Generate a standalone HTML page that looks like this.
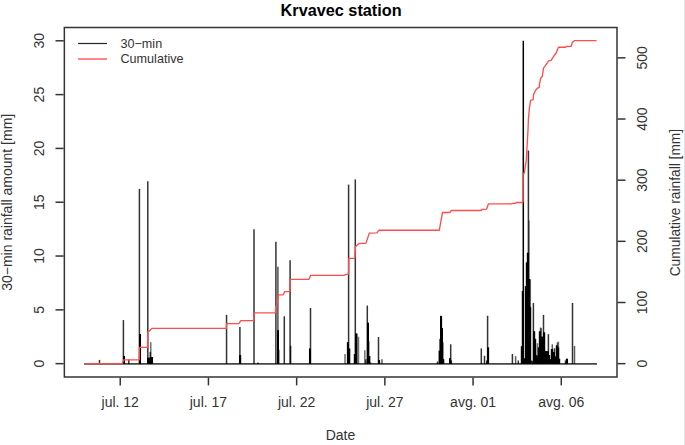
<!DOCTYPE html>
<html><head><meta charset="utf-8"><style>
html,body{margin:0;padding:0;background:#fff;width:685px;height:445px;overflow:hidden}
svg{display:block}
.t{font-family:"Liberation Sans",sans-serif;font-size:14px;fill:#333}
.lg{font-family:"Liberation Sans",sans-serif;font-size:12.6px;fill:#333}
.ti{font-family:"Liberation Sans",sans-serif;font-size:16.25px;font-weight:bold;fill:#000}
</style></head><body>
<svg width="685" height="445" viewBox="0 0 685 445">
<rect x="684" y="0" width="1" height="445" fill="#e3e3e3"/>
<path d="M64.35 27.5 H617 V377 H64.35 Z" fill="none" stroke="#000" stroke-width="1.5" stroke-opacity="0.8"/>
<line x1="55.5" y1="363.66" x2="63.6" y2="363.66" stroke="#000" stroke-width="1.5" stroke-opacity="0.8"/>
<text x="44.2" y="363.66" transform="rotate(-90 44.2 363.66)" text-anchor="middle" class="t">0</text>
<line x1="55.5" y1="309.85" x2="63.6" y2="309.85" stroke="#000" stroke-width="1.5" stroke-opacity="0.8"/>
<text x="44.2" y="309.85" transform="rotate(-90 44.2 309.85)" text-anchor="middle" class="t">5</text>
<line x1="55.5" y1="256.04" x2="63.6" y2="256.04" stroke="#000" stroke-width="1.5" stroke-opacity="0.8"/>
<text x="44.2" y="256.04" transform="rotate(-90 44.2 256.04)" text-anchor="middle" class="t">10</text>
<line x1="55.5" y1="202.23" x2="63.6" y2="202.23" stroke="#000" stroke-width="1.5" stroke-opacity="0.8"/>
<text x="44.2" y="202.23" transform="rotate(-90 44.2 202.23)" text-anchor="middle" class="t">15</text>
<line x1="55.5" y1="148.42" x2="63.6" y2="148.42" stroke="#000" stroke-width="1.5" stroke-opacity="0.8"/>
<text x="44.2" y="148.42" transform="rotate(-90 44.2 148.42)" text-anchor="middle" class="t">20</text>
<line x1="55.5" y1="94.61" x2="63.6" y2="94.61" stroke="#000" stroke-width="1.5" stroke-opacity="0.8"/>
<text x="44.2" y="94.61" transform="rotate(-90 44.2 94.61)" text-anchor="middle" class="t">25</text>
<line x1="55.5" y1="40.80" x2="63.6" y2="40.80" stroke="#000" stroke-width="1.5" stroke-opacity="0.8"/>
<text x="44.2" y="40.80" transform="rotate(-90 44.2 40.80)" text-anchor="middle" class="t">30</text>
<line x1="617.7" y1="363.66" x2="625.5" y2="363.66" stroke="#000" stroke-width="1.5" stroke-opacity="0.8"/>
<text x="647" y="363.66" transform="rotate(-90 647 363.66)" text-anchor="middle" class="t">0</text>
<line x1="617.7" y1="302.50" x2="625.5" y2="302.50" stroke="#000" stroke-width="1.5" stroke-opacity="0.8"/>
<text x="647" y="302.50" transform="rotate(-90 647 302.50)" text-anchor="middle" class="t">100</text>
<line x1="617.7" y1="241.34" x2="625.5" y2="241.34" stroke="#000" stroke-width="1.5" stroke-opacity="0.8"/>
<text x="647" y="241.34" transform="rotate(-90 647 241.34)" text-anchor="middle" class="t">200</text>
<line x1="617.7" y1="180.18" x2="625.5" y2="180.18" stroke="#000" stroke-width="1.5" stroke-opacity="0.8"/>
<text x="647" y="180.18" transform="rotate(-90 647 180.18)" text-anchor="middle" class="t">300</text>
<line x1="617.7" y1="119.02" x2="625.5" y2="119.02" stroke="#000" stroke-width="1.5" stroke-opacity="0.8"/>
<text x="647" y="119.02" transform="rotate(-90 647 119.02)" text-anchor="middle" class="t">400</text>
<line x1="617.7" y1="57.86" x2="625.5" y2="57.86" stroke="#000" stroke-width="1.5" stroke-opacity="0.8"/>
<text x="647" y="57.86" transform="rotate(-90 647 57.86)" text-anchor="middle" class="t">500</text>
<line x1="120.23" y1="377.7" x2="120.23" y2="385.4" stroke="#000" stroke-width="1.5" stroke-opacity="0.8"/>
<text x="120.23" y="406.7" text-anchor="middle" class="t">jul. 12</text>
<line x1="208.44" y1="377.7" x2="208.44" y2="385.4" stroke="#000" stroke-width="1.5" stroke-opacity="0.8"/>
<text x="208.44" y="406.7" text-anchor="middle" class="t">jul. 17</text>
<line x1="296.65" y1="377.7" x2="296.65" y2="385.4" stroke="#000" stroke-width="1.5" stroke-opacity="0.8"/>
<text x="296.65" y="406.7" text-anchor="middle" class="t">jul. 22</text>
<line x1="384.86" y1="377.7" x2="384.86" y2="385.4" stroke="#000" stroke-width="1.5" stroke-opacity="0.8"/>
<text x="384.86" y="406.7" text-anchor="middle" class="t">jul. 27</text>
<line x1="473.07" y1="377.7" x2="473.07" y2="385.4" stroke="#000" stroke-width="1.5" stroke-opacity="0.8"/>
<text x="473.07" y="406.7" text-anchor="middle" class="t">avg. 01</text>
<line x1="561.28" y1="377.7" x2="561.28" y2="385.4" stroke="#000" stroke-width="1.5" stroke-opacity="0.8"/>
<text x="561.28" y="406.7" text-anchor="middle" class="t">avg. 06</text>
<line x1="84" y1="363.9" x2="597" y2="363.9" stroke="#000" stroke-width="1.7" stroke-opacity="0.72"/>
<rect x="123" y="356.13" width="1" height="7.53" fill="#000"/>
<rect x="124" y="356.13" width="1" height="7.53" fill="#000"/>
<rect x="139" y="334.06" width="1" height="29.60" fill="#000"/>
<rect x="140" y="334.06" width="1" height="29.60" fill="#000"/>
<rect x="147" y="357.74" width="1" height="5.92" fill="#000"/>
<rect x="148" y="357.74" width="1" height="5.92" fill="#000"/>
<rect x="149" y="357.74" width="1" height="5.92" fill="#000"/>
<rect x="150" y="357.20" width="1" height="6.46" fill="#000"/>
<rect x="151" y="357.20" width="1" height="6.46" fill="#000"/>
<rect x="152" y="357.20" width="1" height="6.46" fill="#000"/>
<rect x="239" y="355.05" width="1" height="8.61" fill="#000"/>
<rect x="240" y="355.05" width="1" height="8.61" fill="#000"/>
<rect x="277" y="330.30" width="1" height="33.36" fill="#000"/>
<rect x="278" y="330.30" width="1" height="33.36" fill="#000"/>
<rect x="309" y="348.59" width="1" height="15.07" fill="#000"/>
<rect x="310" y="348.59" width="1" height="15.07" fill="#000"/>
<rect x="347" y="342.14" width="1" height="21.52" fill="#000"/>
<rect x="348" y="342.14" width="1" height="21.52" fill="#000"/>
<rect x="349" y="348.59" width="1" height="15.07" fill="#000"/>
<rect x="354" y="353.97" width="1" height="9.69" fill="#000"/>
<rect x="355" y="333.53" width="1" height="30.13" fill="#000"/>
<rect x="356" y="333.53" width="1" height="30.13" fill="#000"/>
<rect x="367" y="322.76" width="1" height="40.90" fill="#000"/>
<rect x="368" y="322.76" width="1" height="40.90" fill="#000"/>
<rect x="369" y="356.13" width="1" height="7.53" fill="#000"/>
<rect x="378" y="360.11" width="1" height="3.55" fill="#000"/>
<rect x="379" y="360.11" width="1" height="3.55" fill="#000"/>
<rect x="439" y="350.75" width="1" height="12.91" fill="#000"/>
<rect x="440" y="316.31" width="1" height="47.35" fill="#000"/>
<rect x="441" y="316.31" width="1" height="47.35" fill="#000"/>
<rect x="442" y="328.15" width="1" height="35.51" fill="#000"/>
<rect x="443" y="359.36" width="1" height="4.30" fill="#000"/>
<rect x="449" y="358.28" width="1" height="5.38" fill="#000"/>
<rect x="450" y="358.28" width="1" height="5.38" fill="#000"/>
<rect x="487" y="347.52" width="1" height="16.14" fill="#000"/>
<rect x="488" y="347.52" width="1" height="16.14" fill="#000"/>
<rect x="521" y="346.44" width="1" height="17.22" fill="#000"/>
<rect x="522" y="291.02" width="1" height="72.64" fill="#000"/>
<rect x="523" y="291.02" width="1" height="72.64" fill="#000"/>
<rect x="524" y="358.28" width="1" height="5.38" fill="#000"/>
<rect x="525" y="286.17" width="1" height="77.49" fill="#000"/>
<rect x="526" y="262.50" width="1" height="101.16" fill="#000"/>
<rect x="527" y="252.81" width="1" height="110.85" fill="#000"/>
<rect x="528" y="252.81" width="1" height="110.85" fill="#000"/>
<rect x="529" y="279.18" width="1" height="84.48" fill="#000"/>
<rect x="530" y="307.16" width="1" height="56.50" fill="#000"/>
<rect x="533" y="331.37" width="1" height="32.29" fill="#000"/>
<rect x="534" y="331.37" width="1" height="32.29" fill="#000"/>
<rect x="535" y="338.91" width="1" height="24.75" fill="#000"/>
<rect x="536" y="355.05" width="1" height="8.61" fill="#000"/>
<rect x="537" y="356.13" width="1" height="7.53" fill="#000"/>
<rect x="538" y="347.52" width="1" height="16.14" fill="#000"/>
<rect x="539" y="331.37" width="1" height="32.29" fill="#000"/>
<rect x="540" y="331.37" width="1" height="32.29" fill="#000"/>
<rect x="541" y="336.75" width="1" height="26.91" fill="#000"/>
<rect x="542" y="336.75" width="1" height="26.91" fill="#000"/>
<rect x="543" y="332.45" width="1" height="31.21" fill="#000"/>
<rect x="544" y="332.45" width="1" height="31.21" fill="#000"/>
<rect x="545" y="351.28" width="1" height="12.38" fill="#000"/>
<rect x="546" y="351.28" width="1" height="12.38" fill="#000"/>
<rect x="547" y="351.28" width="1" height="12.38" fill="#000"/>
<rect x="548" y="351.28" width="1" height="12.38" fill="#000"/>
<rect x="549" y="355.05" width="1" height="8.61" fill="#000"/>
<rect x="550" y="359.36" width="1" height="4.30" fill="#000"/>
<rect x="551" y="349.02" width="1" height="14.64" fill="#000"/>
<rect x="552" y="349.02" width="1" height="14.64" fill="#000"/>
<rect x="553" y="352.04" width="1" height="11.62" fill="#000"/>
<rect x="554" y="352.04" width="1" height="11.62" fill="#000"/>
<rect x="555" y="356.56" width="1" height="7.10" fill="#000"/>
<rect x="556" y="345.47" width="1" height="18.19" fill="#000"/>
<rect x="557" y="345.47" width="1" height="18.19" fill="#000"/>
<rect x="558" y="347.52" width="1" height="16.14" fill="#000"/>
<rect x="559" y="358.82" width="1" height="4.84" fill="#000"/>
<rect x="566" y="358.82" width="1" height="4.84" fill="#000"/>
<rect x="567" y="358.82" width="1" height="4.84" fill="#000"/>
<line x1="99.5" y1="363.96000000000004" x2="99.5" y2="359.89" stroke="#000" stroke-width="1.5" stroke-opacity="0.80"/>
<line x1="123.4" y1="363.96000000000004" x2="123.4" y2="320.07" stroke="#000" stroke-width="1.5" stroke-opacity="0.80"/>
<line x1="124.3" y1="363.96000000000004" x2="124.3" y2="356.13" stroke="#000" stroke-width="1.5" stroke-opacity="0.80"/>
<line x1="128.8" y1="363.96000000000004" x2="128.8" y2="359.57" stroke="#000" stroke-width="1.5" stroke-opacity="0.80"/>
<line x1="139.4" y1="363.96000000000004" x2="139.4" y2="188.89" stroke="#000" stroke-width="1.5" stroke-opacity="0.80"/>
<line x1="140.3" y1="363.96000000000004" x2="140.3" y2="334.06" stroke="#000" stroke-width="1.5" stroke-opacity="0.80"/>
<line x1="147.8" y1="363.96000000000004" x2="147.8" y2="181.24" stroke="#000" stroke-width="1.5" stroke-opacity="0.80"/>
<line x1="148.5" y1="363.96000000000004" x2="148.5" y2="357.74" stroke="#000" stroke-width="1.5" stroke-opacity="0.80"/>
<line x1="149.3" y1="363.96000000000004" x2="149.3" y2="357.74" stroke="#000" stroke-width="1.5" stroke-opacity="0.80"/>
<line x1="150.3" y1="363.96000000000004" x2="150.3" y2="351.82" stroke="#000" stroke-width="1.5" stroke-opacity="0.80"/>
<line x1="150.8" y1="363.96000000000004" x2="150.8" y2="342.14" stroke="#000" stroke-width="1.5" stroke-opacity="0.56"/>
<line x1="151.5" y1="363.96000000000004" x2="151.5" y2="357.20" stroke="#000" stroke-width="1.5" stroke-opacity="0.80"/>
<line x1="152.3" y1="363.96000000000004" x2="152.3" y2="357.20" stroke="#000" stroke-width="1.5" stroke-opacity="0.80"/>
<line x1="226.55" y1="363.96000000000004" x2="226.55" y2="314.91" stroke="#000" stroke-width="1.5" stroke-opacity="0.80"/>
<line x1="239.9" y1="363.96000000000004" x2="239.9" y2="327.07" stroke="#000" stroke-width="1.5" stroke-opacity="0.80"/>
<line x1="240.5" y1="363.96000000000004" x2="240.5" y2="355.05" stroke="#000" stroke-width="1.5" stroke-opacity="0.80"/>
<line x1="254.0" y1="363.96000000000004" x2="254.0" y2="229.14" stroke="#000" stroke-width="1.5" stroke-opacity="0.80"/>
<line x1="258.0" y1="363.96000000000004" x2="258.0" y2="362.58" stroke="#000" stroke-width="1.5" stroke-opacity="0.80"/>
<line x1="275.9" y1="363.96000000000004" x2="275.9" y2="241.73" stroke="#000" stroke-width="1.5" stroke-opacity="0.80"/>
<line x1="277.9" y1="363.96000000000004" x2="277.9" y2="266.80" stroke="#000" stroke-width="1.5" stroke-opacity="0.68"/>
<line x1="278.2" y1="363.96000000000004" x2="278.2" y2="330.30" stroke="#000" stroke-width="1.5" stroke-opacity="0.80"/>
<line x1="278.7" y1="363.96000000000004" x2="278.7" y2="349.67" stroke="#000" stroke-width="1.5" stroke-opacity="0.80"/>
<line x1="284.3" y1="363.96000000000004" x2="284.3" y2="316.31" stroke="#000" stroke-width="1.5" stroke-opacity="0.80"/>
<line x1="290.1" y1="363.96000000000004" x2="290.1" y2="260.13" stroke="#000" stroke-width="1.5" stroke-opacity="0.80"/>
<line x1="290.6" y1="363.96000000000004" x2="290.6" y2="345.80" stroke="#000" stroke-width="1.5" stroke-opacity="0.80"/>
<line x1="309.7" y1="363.96000000000004" x2="309.7" y2="348.59" stroke="#000" stroke-width="1.5" stroke-opacity="0.80"/>
<line x1="310.5" y1="363.96000000000004" x2="310.5" y2="308.02" stroke="#000" stroke-width="1.5" stroke-opacity="0.80"/>
<line x1="345.0" y1="363.96000000000004" x2="345.0" y2="353.97" stroke="#000" stroke-width="1.5" stroke-opacity="0.56"/>
<line x1="347.6" y1="363.96000000000004" x2="347.6" y2="342.14" stroke="#000" stroke-width="1.5" stroke-opacity="0.80"/>
<line x1="348.6" y1="363.96000000000004" x2="348.6" y2="184.58" stroke="#000" stroke-width="1.5" stroke-opacity="0.80"/>
<line x1="349.6" y1="363.96000000000004" x2="349.6" y2="348.59" stroke="#000" stroke-width="1.5" stroke-opacity="0.80"/>
<line x1="354.4" y1="363.96000000000004" x2="354.4" y2="353.97" stroke="#000" stroke-width="1.5" stroke-opacity="0.64"/>
<line x1="355.3" y1="363.96000000000004" x2="355.3" y2="179.41" stroke="#000" stroke-width="1.5" stroke-opacity="0.80"/>
<line x1="356.9" y1="363.96000000000004" x2="356.9" y2="333.53" stroke="#000" stroke-width="1.5" stroke-opacity="0.80"/>
<line x1="358.5" y1="363.96000000000004" x2="358.5" y2="336.75" stroke="#000" stroke-width="1.5" stroke-opacity="0.56"/>
<line x1="364.8" y1="363.96000000000004" x2="364.8" y2="350.21" stroke="#000" stroke-width="1.5" stroke-opacity="0.56"/>
<line x1="365.9" y1="363.96000000000004" x2="365.9" y2="359.36" stroke="#000" stroke-width="1.5" stroke-opacity="0.80"/>
<line x1="367.3" y1="363.96000000000004" x2="367.3" y2="305.55" stroke="#000" stroke-width="1.5" stroke-opacity="0.80"/>
<line x1="368.1" y1="363.96000000000004" x2="368.1" y2="322.76" stroke="#000" stroke-width="1.5" stroke-opacity="0.80"/>
<line x1="368.7" y1="363.96000000000004" x2="368.7" y2="341.06" stroke="#000" stroke-width="1.5" stroke-opacity="0.80"/>
<line x1="369.7" y1="363.96000000000004" x2="369.7" y2="356.13" stroke="#000" stroke-width="1.5" stroke-opacity="0.80"/>
<line x1="370.7" y1="363.96000000000004" x2="370.7" y2="362.58" stroke="#000" stroke-width="1.5" stroke-opacity="0.80"/>
<line x1="378.5" y1="363.96000000000004" x2="378.5" y2="336.97" stroke="#000" stroke-width="1.5" stroke-opacity="0.80"/>
<line x1="379.4" y1="363.96000000000004" x2="379.4" y2="360.11" stroke="#000" stroke-width="1.5" stroke-opacity="0.80"/>
<line x1="382.0" y1="363.96000000000004" x2="382.0" y2="359.14" stroke="#000" stroke-width="1.5" stroke-opacity="0.64"/>
<line x1="437.5" y1="363.96000000000004" x2="437.5" y2="361.51" stroke="#000" stroke-width="1.5" stroke-opacity="0.80"/>
<line x1="439.2" y1="363.96000000000004" x2="439.2" y2="350.75" stroke="#000" stroke-width="1.5" stroke-opacity="0.80"/>
<line x1="440.0" y1="363.96000000000004" x2="440.0" y2="338.91" stroke="#000" stroke-width="1.5" stroke-opacity="0.80"/>
<line x1="440.8" y1="363.96000000000004" x2="440.8" y2="315.77" stroke="#000" stroke-width="1.5" stroke-opacity="0.80"/>
<line x1="441.4" y1="363.96000000000004" x2="441.4" y2="316.31" stroke="#000" stroke-width="1.5" stroke-opacity="0.80"/>
<line x1="442.0" y1="363.96000000000004" x2="442.0" y2="328.15" stroke="#000" stroke-width="1.5" stroke-opacity="0.80"/>
<line x1="442.8" y1="363.96000000000004" x2="442.8" y2="342.14" stroke="#000" stroke-width="1.5" stroke-opacity="0.80"/>
<line x1="443.6" y1="363.96000000000004" x2="443.6" y2="359.36" stroke="#000" stroke-width="1.5" stroke-opacity="0.80"/>
<line x1="449.9" y1="363.96000000000004" x2="449.9" y2="358.28" stroke="#000" stroke-width="1.5" stroke-opacity="0.80"/>
<line x1="450.7" y1="363.96000000000004" x2="450.7" y2="344.29" stroke="#000" stroke-width="1.5" stroke-opacity="0.80"/>
<line x1="451.4" y1="363.96000000000004" x2="451.4" y2="360.43" stroke="#000" stroke-width="1.5" stroke-opacity="0.80"/>
<line x1="481.3" y1="363.96000000000004" x2="481.3" y2="348.38" stroke="#000" stroke-width="1.5" stroke-opacity="0.80"/>
<line x1="484.5" y1="363.96000000000004" x2="484.5" y2="355.80" stroke="#000" stroke-width="1.5" stroke-opacity="0.80"/>
<line x1="486.7" y1="363.96000000000004" x2="486.7" y2="360.43" stroke="#000" stroke-width="1.5" stroke-opacity="0.80"/>
<line x1="487.6" y1="363.96000000000004" x2="487.6" y2="315.77" stroke="#000" stroke-width="1.5" stroke-opacity="0.80"/>
<line x1="488.4" y1="363.96000000000004" x2="488.4" y2="347.52" stroke="#000" stroke-width="1.5" stroke-opacity="0.80"/>
<line x1="512.4" y1="363.96000000000004" x2="512.4" y2="353.97" stroke="#000" stroke-width="1.5" stroke-opacity="0.80"/>
<line x1="515.6" y1="363.96000000000004" x2="515.6" y2="356.13" stroke="#000" stroke-width="1.5" stroke-opacity="0.64"/>
<line x1="518.3" y1="363.96000000000004" x2="518.3" y2="360.43" stroke="#000" stroke-width="1.5" stroke-opacity="0.80"/>
<line x1="521.5" y1="363.96000000000004" x2="521.5" y2="346.44" stroke="#000" stroke-width="1.5" stroke-opacity="0.80"/>
<line x1="522.4" y1="363.96000000000004" x2="522.4" y2="291.02" stroke="#000" stroke-width="1.5" stroke-opacity="0.68"/>
<line x1="523.3" y1="363.96000000000004" x2="523.3" y2="40.80" stroke="#000" stroke-width="1.5" stroke-opacity="1.00"/>
<line x1="524.5" y1="363.96000000000004" x2="524.5" y2="358.28" stroke="#000" stroke-width="1.5" stroke-opacity="0.80"/>
<line x1="525.5" y1="363.96000000000004" x2="525.5" y2="286.17" stroke="#000" stroke-width="1.5" stroke-opacity="0.80"/>
<line x1="526.5" y1="363.96000000000004" x2="526.5" y2="262.50" stroke="#000" stroke-width="1.5" stroke-opacity="0.80"/>
<line x1="527.5" y1="363.96000000000004" x2="527.5" y2="252.81" stroke="#000" stroke-width="1.5" stroke-opacity="0.80"/>
<line x1="528.4" y1="363.96000000000004" x2="528.4" y2="150.57" stroke="#000" stroke-width="1.5" stroke-opacity="0.80"/>
<line x1="529.2" y1="363.96000000000004" x2="529.2" y2="220.53" stroke="#000" stroke-width="1.5" stroke-opacity="0.40"/>
<line x1="529.5" y1="363.96000000000004" x2="529.5" y2="279.18" stroke="#000" stroke-width="1.5" stroke-opacity="0.80"/>
<line x1="530.5" y1="363.96000000000004" x2="530.5" y2="307.16" stroke="#000" stroke-width="1.5" stroke-opacity="0.80"/>
<line x1="530.3" y1="363.96000000000004" x2="530.3" y2="279.18" stroke="#000" stroke-width="1.5" stroke-opacity="0.56"/>
<line x1="531.5" y1="363.96000000000004" x2="531.5" y2="360.43" stroke="#000" stroke-width="1.5" stroke-opacity="0.80"/>
<line x1="532.5" y1="363.96000000000004" x2="532.5" y2="360.97" stroke="#000" stroke-width="1.5" stroke-opacity="0.80"/>
<line x1="533.4" y1="363.96000000000004" x2="533.4" y2="302.96" stroke="#000" stroke-width="1.5" stroke-opacity="0.80"/>
<line x1="534.5" y1="363.96000000000004" x2="534.5" y2="331.37" stroke="#000" stroke-width="1.5" stroke-opacity="0.80"/>
<line x1="535.5" y1="363.96000000000004" x2="535.5" y2="338.91" stroke="#000" stroke-width="1.5" stroke-opacity="0.80"/>
<line x1="536.5" y1="363.96000000000004" x2="536.5" y2="355.05" stroke="#000" stroke-width="1.5" stroke-opacity="0.80"/>
<line x1="537.4" y1="363.96000000000004" x2="537.4" y2="343.21" stroke="#000" stroke-width="1.5" stroke-opacity="0.56"/>
<line x1="537.5" y1="363.96000000000004" x2="537.5" y2="356.13" stroke="#000" stroke-width="1.5" stroke-opacity="0.80"/>
<line x1="538.5" y1="363.96000000000004" x2="538.5" y2="347.52" stroke="#000" stroke-width="1.5" stroke-opacity="0.80"/>
<line x1="539.5" y1="363.96000000000004" x2="539.5" y2="331.37" stroke="#000" stroke-width="1.5" stroke-opacity="0.80"/>
<line x1="540.5" y1="363.96000000000004" x2="540.5" y2="327.50" stroke="#000" stroke-width="1.5" stroke-opacity="0.64"/>
<line x1="541.3" y1="363.96000000000004" x2="541.3" y2="328.15" stroke="#000" stroke-width="1.5" stroke-opacity="0.56"/>
<line x1="541.5" y1="363.96000000000004" x2="541.5" y2="336.75" stroke="#000" stroke-width="1.5" stroke-opacity="0.80"/>
<line x1="542.5" y1="363.96000000000004" x2="542.5" y2="336.75" stroke="#000" stroke-width="1.5" stroke-opacity="0.80"/>
<line x1="543.5" y1="363.96000000000004" x2="543.5" y2="314.91" stroke="#000" stroke-width="1.5" stroke-opacity="0.80"/>
<line x1="544.5" y1="363.96000000000004" x2="544.5" y2="332.45" stroke="#000" stroke-width="1.5" stroke-opacity="0.80"/>
<line x1="545.5" y1="363.96000000000004" x2="545.5" y2="351.28" stroke="#000" stroke-width="1.5" stroke-opacity="0.80"/>
<line x1="546.5" y1="363.96000000000004" x2="546.5" y2="351.28" stroke="#000" stroke-width="1.5" stroke-opacity="0.80"/>
<line x1="547.5" y1="363.96000000000004" x2="547.5" y2="351.28" stroke="#000" stroke-width="1.5" stroke-opacity="0.80"/>
<line x1="548.4" y1="363.96000000000004" x2="548.4" y2="334.17" stroke="#000" stroke-width="1.5" stroke-opacity="0.80"/>
<line x1="549.5" y1="363.96000000000004" x2="549.5" y2="355.05" stroke="#000" stroke-width="1.5" stroke-opacity="0.80"/>
<line x1="550.5" y1="363.96000000000004" x2="550.5" y2="359.36" stroke="#000" stroke-width="1.5" stroke-opacity="0.80"/>
<line x1="551.5" y1="363.96000000000004" x2="551.5" y2="349.02" stroke="#000" stroke-width="1.5" stroke-opacity="0.80"/>
<line x1="552.3" y1="363.96000000000004" x2="552.3" y2="344.29" stroke="#000" stroke-width="1.5" stroke-opacity="0.64"/>
<line x1="552.5" y1="363.96000000000004" x2="552.5" y2="349.67" stroke="#000" stroke-width="1.5" stroke-opacity="0.80"/>
<line x1="553.5" y1="363.96000000000004" x2="553.5" y2="352.04" stroke="#000" stroke-width="1.5" stroke-opacity="0.80"/>
<line x1="554.5" y1="363.96000000000004" x2="554.5" y2="348.27" stroke="#000" stroke-width="1.5" stroke-opacity="0.80"/>
<line x1="555.5" y1="363.96000000000004" x2="555.5" y2="356.56" stroke="#000" stroke-width="1.5" stroke-opacity="0.80"/>
<line x1="556.5" y1="363.96000000000004" x2="556.5" y2="345.47" stroke="#000" stroke-width="1.5" stroke-opacity="0.80"/>
<line x1="557.4" y1="363.96000000000004" x2="557.4" y2="342.46" stroke="#000" stroke-width="1.5" stroke-opacity="0.64"/>
<line x1="557.5" y1="363.96000000000004" x2="557.5" y2="346.44" stroke="#000" stroke-width="1.5" stroke-opacity="0.80"/>
<line x1="558.4" y1="363.96000000000004" x2="558.4" y2="341.60" stroke="#000" stroke-width="1.5" stroke-opacity="0.56"/>
<line x1="558.5" y1="363.96000000000004" x2="558.5" y2="347.52" stroke="#000" stroke-width="1.5" stroke-opacity="0.80"/>
<line x1="559.5" y1="363.96000000000004" x2="559.5" y2="358.82" stroke="#000" stroke-width="1.5" stroke-opacity="0.80"/>
<line x1="565.5" y1="363.96000000000004" x2="565.5" y2="360.43" stroke="#000" stroke-width="1.5" stroke-opacity="0.80"/>
<line x1="566.5" y1="363.96000000000004" x2="566.5" y2="358.82" stroke="#000" stroke-width="1.5" stroke-opacity="0.80"/>
<line x1="567.3" y1="363.96000000000004" x2="567.3" y2="358.82" stroke="#000" stroke-width="1.5" stroke-opacity="0.80"/>
<line x1="572.5" y1="363.96000000000004" x2="572.5" y2="302.96" stroke="#000" stroke-width="1.5" stroke-opacity="0.80"/>
<line x1="574.5" y1="363.96000000000004" x2="574.5" y2="346.01" stroke="#000" stroke-width="1.5" stroke-opacity="0.64"/>
<polyline points="84,363.66 122.1,363.66 123.8,359.8 139.3,359.8 139.4,347.4 147.6,347.4 147.75,331.9 150.1,330.4 151.8,328.4 226.3,328.4 226.6,323.6 238.8,323.6 240.9,320.6 253.8,320.6 254.0,312.8 275.5,312.8 275.7,306.4 277.0,304.2 278.4,294.8 283.2,294.8 284.8,291.6 289.9,291.6 290.2,279.3 309.0,279.3 310.7,275.3 344.2,275.2 346.5,274.4 348.6,274.0 348.8,258.3 354.9,258.3 355.5,246.5 359.1,243.4 365.9,243.4 369.3,233.1 377,232.8 379,230.2 439.3,230.2 442.5,212.5 450,212.5 451.3,210.45 481,210.45 481.8,209.5 486.5,209.2 488.5,203.8 511.8,203.8 512.2,203.3 515.7,203.3 516.1,202.5 522.5,202.5 523.1,202.0 523.2,173.5 524.2,173.3 526.3,160 528.0,130 528.4,119.3 529.4,108 530.6,100.4 533.1,99.7 533.5,94.6 535.4,90.7 537.1,88.4 539.3,87.3 539.4,84.4 540.7,78.3 542.4,76 543.5,68.1 545.2,65.9 548.6,60.8 551.1,60.3 554.8,54.7 555.9,53.5 558.5,47.2 565.6,47.2 566.5,46.3 571.2,46.3 572.4,42.3 574.6,40.55 596.5,40.55" fill="none" stroke="#ff4d4d" stroke-width="1.35" stroke-linejoin="round"/>
<line x1="78" y1="43.5" x2="107" y2="43.5" stroke="#000" stroke-width="1.2" stroke-opacity="0.85"/>
<line x1="78" y1="59" x2="107" y2="59" stroke="#ff4d4d" stroke-width="1.35"/>
<text x="120.5" y="47.6" class="lg">30−min</text>
<text x="120.5" y="62.9" class="lg">Cumulative</text>
<text x="341.1" y="15.8" text-anchor="middle" class="ti">Krvavec station</text>
<text x="340.5" y="440.1" text-anchor="middle" class="t">Date</text>
<text x="12.0" y="202.3" transform="rotate(-90 12.0 202.3)" text-anchor="middle" class="t">30−min rainfall amount [mm]</text>
<text x="680.3" y="202.6" transform="rotate(-90 680.3 202.6)" text-anchor="middle" textLength="147.5" lengthAdjust="spacingAndGlyphs" class="t">Cumulative rainfall [mm]</text>
</svg>
</body></html>
